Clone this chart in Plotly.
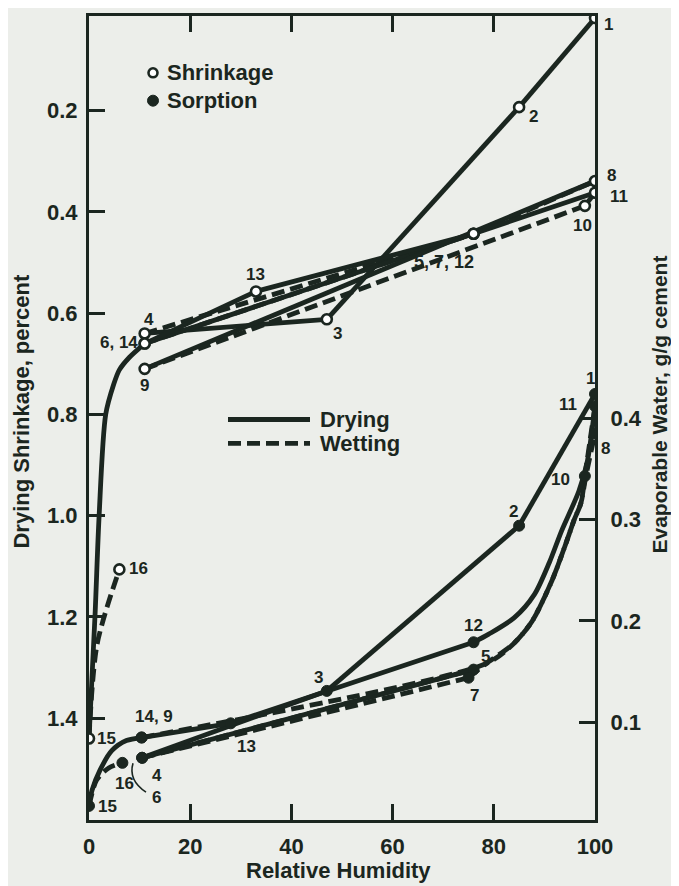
import plotly.graph_objects as go

# ---------------- data ----------------
points = list(range(1, 17))

# Shrinkage (open circles, left axis, percent)
shr_rh  = [100, 85, 47, 11, 76, 11, 76, 100, 11, 98, 100, 76, 33, 11, 0, 6]
shr_val = [0.017, 0.193, 0.612, 0.640, 0.443, 0.660, 0.443, 0.339,
           0.710, 0.388, 0.362, 0.443, 0.557, 0.660, 1.440, 1.106]

# Sorption (filled circles, right axis, g/g cement)
sor_rh  = [100, 85, 47, 10.5, 76, 10.5, 75, 100, 10.4, 98, 100, 76, 28, 10.4, 0, 6.6]
sor_val = [0.424, 0.294, 0.131, 0.065, 0.152, 0.065, 0.144, 0.385,
           0.085, 0.343, 0.412, 0.179, 0.099, 0.085, 0.0175, 0.060]

# read points along curved segments
shr_c14_15_rh  = [8.0, 6.0, 4.9, 3.3, 2.0, 1.2]
shr_c14_15_val = [0.687, 0.712, 0.740, 0.800, 1.000, 1.195]
shr_c15_16_rh  = [1.6]
shr_c15_16_val = [1.254]

sor_c11_12_rh  = [98.5, 96.8, 93.4, 91.0, 88.0, 84.0, 79.0]
sor_c11_12_val = [0.358, 0.328, 0.289, 0.258, 0.226, 0.203, 0.187]
sor_c7_8_rh    = [78.5, 84.0, 87.6, 91.5, 94.0, 95.9, 97.2, 98.2]
sor_c7_8_val   = [0.158, 0.178, 0.200, 0.240, 0.273, 0.300, 0.316, 0.343]
sor_c14_15_rh  = [7.4, 4.5, 2.2, 0.6]
sor_c14_15_val = [0.082, 0.072, 0.053, 0.033]
sor_c15_16_rh  = [1.5, 3.9]
sor_c15_16_val = [0.043, 0.055]

# steps of the test (from point, to point, kind)
steps = [(1, 2, "D"), (2, 3, "D"), (3, 4, "D"), (4, 5, "W"), (5, 6, "D"),
         (6, 7, "W"), (7, 8, "W"), (8, 9, "D"), (9, 10, "W"), (10, 11, "W"),
         (11, 12, "D"), (12, 13, "D"), (13, 14, "D"), (14, 15, "D"), (15, 16, "W")]

x_ticks = [0, 20, 40, 60, 80, 100]
left_ticks = [0.2, 0.4, 0.6, 0.8, 1.0, 1.2, 1.4]
right_ticks = [0.1, 0.2, 0.3, 0.4]

# ---------------- styling ----------------
INK = "#1b2620"
BG = "#eceeea"
FONT = "Liberation Sans"
OFF = 8                       # page body margin
W, H = 679 - OFF, 886 - OFF
ML, MT = 89 - OFF, 13 - OFF
PLOT_R, PLOT_B = 595 - OFF, 820 - OFF
MR, MB = W - PLOT_R, H - PLOT_B
PW, PH = PLOT_R - ML, PLOT_B - MT


def px(x):   # absolute page pixel -> paper
    return (x - OFF - ML) / PW


def py(y):
    return (PLOT_B - (y - OFF)) / PH


fig = go.Figure()

LW = 4.8
DASH = "13px,6px"


def seg(xs, ys, kind, yaxis, spline=False):
    fig.add_trace(go.Scatter(
        x=xs, y=ys, mode="lines", yaxis=yaxis, showlegend=False, hoverinfo="skip",
        line=dict(color=INK, width=LW, dash="solid" if kind == "D" else DASH,
                  shape="spline" if spline else "linear", smoothing=0.8)))


# --- shrinkage segments
shr_curves = {(14, 15): (shr_c14_15_rh, shr_c14_15_val),
              (15, 16): (shr_c15_16_rh, shr_c15_16_val)}
for a, b, k in steps:
    xs = [shr_rh[a - 1]]
    ys = [shr_val[a - 1]]
    sp = False
    if (a, b) in shr_curves:
        cx, cy = shr_curves[(a, b)]
        xs += cx
        ys += cy
        sp = True
    xs.append(shr_rh[b - 1])
    ys.append(shr_val[b - 1])
    seg(xs, ys, k, "y", sp)

# --- sorption segments
sor_curves = {(11, 12): (sor_c11_12_rh, sor_c11_12_val),
              (7, 8): (sor_c7_8_rh, sor_c7_8_val),
              (9, 10): (sor_c7_8_rh[:-1], sor_c7_8_val[:-1]),
              (14, 15): (sor_c14_15_rh, sor_c14_15_val),
              (15, 16): (sor_c15_16_rh, sor_c15_16_val)}
for a, b, k in steps:
    if (a, b) == (8, 9):
        continue  # runs along the 11-12-13-14 path
    xs = [sor_rh[a - 1]]
    ys = [sor_val[a - 1]]
    sp = False
    if (a, b) in sor_curves:
        cx, cy = sor_curves[(a, b)]
        xs += cx
        ys += cy
        sp = True
    xs.append(sor_rh[b - 1])
    ys.append(sor_val[b - 1])
    seg(xs, ys, k, "y2", sp)

# markers
fig.add_trace(go.Scatter(x=shr_rh, y=shr_val, mode="markers", yaxis="y", showlegend=False,
                         marker=dict(symbol="circle", size=10, color="white",
                                     line=dict(color=INK, width=2.6))))
fig.add_trace(go.Scatter(x=sor_rh, y=sor_val, mode="markers", yaxis="y2", showlegend=False,
                         marker=dict(symbol="circle", size=11, color=INK,
                                     line=dict(color=INK, width=1))))

# ---------------- point labels ----------------
ann = []


def lab(text, idx, dx, dy, axis, size=17):
    xs = shr_rh if axis == "y" else sor_rh
    ys = shr_val if axis == "y" else sor_val
    ann.append(dict(x=xs[idx - 1], y=ys[idx - 1], xref="x", yref=axis, text="<b>%s</b>" % text,
                    showarrow=False, xshift=dx, yshift=dy,
                    font=dict(family=FONT, size=size, color=INK)))


# shrinkage labels
lab("1", 1, 13, -6, "y")
lab("2", 2, 14, -9, "y")
lab("8", 8, 16, 6, "y")
lab("11", 11, 24, -4, "y")
lab("10", 10, -2, -20, "y")
lab("5, 7, 12", 5, -30, -28, "y", 18)
lab("13", 13, 0, 17, "y")
lab("3", 3, 11, -14, "y")
lab("4", 4, 4, 14, "y")
lab("6, 14", 6, -26, 1, "y")
lab("9", 9, 0, -17, "y")
lab("16", 16, 19, 1, "y")
lab("15", 15, 17, 0, "y")

# sorption labels
lab("1", 1, -5, 15, "y2")
lab("11", 11, -27, 2, "y2")
lab("8", 8, 10, -15, "y2")
lab("10", 10, -24, -3, "y2")
lab("2", 2, -6, 14, "y2")
lab("12", 12, 0, 17, "y2")
lab("5", 5, 12, 13, "y2")
lab("7", 7, 6, -18, "y2")
lab("3", 3, -8, 13, "y2")
lab("13", 13, 16, -23, "y2")
lab("14, 9", 14, 12, 21, "y2")
lab("4", 4, 15, -18, "y2")
lab("6", 6, 14, -40, "y2")
lab("16", 16, 2, -21, "y2")
lab("15", 15, 18, -1, "y2")

# axis titles
TF = dict(family=FONT, size=22, color=INK)
ann.append(dict(x=px(338), y=py(871), xref="paper", yref="paper", text="<b>Relative Humidity</b>",
                showarrow=False, font=TF, xanchor="center", yanchor="middle"))
ann.append(dict(x=px(22), y=py(410), xref="paper", yref="paper", text="<b>Drying Shrinkage, percent</b>",
                showarrow=False, font=TF, textangle=-90, xanchor="center", yanchor="middle"))
ann.append(dict(x=px(660), y=py(403), xref="paper", yref="paper", text="<b>Evaporable Water, g/g cement</b>",
                showarrow=False, font=dict(family=FONT, size=21, color=INK),
                textangle=-90, xanchor="center", yanchor="middle"))

# legend texts
GF = dict(family=FONT, size=22, color=INK)
for t, yy in [("Shrinkage", 70), ("Sorption", 98)]:
    ann.append(dict(x=px(165), y=py(yy), xref="paper", yref="paper", text="<b>%s</b>" % t,
                    showarrow=False, font=GF, xanchor="left", yanchor="middle"))
for t, yy in [("Drying", 418), ("Wetting", 442)]:
    ann.append(dict(x=px(318), y=py(yy), xref="paper", yref="paper", text="<b>%s</b>" % t,
                    showarrow=False, font=GF, xanchor="left", yanchor="middle"))

shapes = [
    dict(type="circle", xref="paper", yref="paper", xsizemode="pixel", ysizemode="pixel",
         xanchor=px(153), yanchor=py(70), x0=-4.5, x1=4.5, y0=-4.5, y1=4.5,
         line=dict(color=INK, width=2.6), fillcolor="white"),
    dict(type="circle", xref="paper", yref="paper", xsizemode="pixel", ysizemode="pixel",
         xanchor=px(153), yanchor=py(98), x0=-5.5, x1=5.5, y0=-5.5, y1=5.5,
         line=dict(color=INK, width=1), fillcolor=INK),
    dict(type="line", xref="paper", yref="paper", x0=px(228), x1=px(310), y0=py(418), y1=py(418),
         line=dict(color=INK, width=LW)),
    dict(type="line", xref="paper", yref="paper", x0=px(228), x1=px(310), y0=py(442), y1=py(442),
         line=dict(color=INK, width=LW, dash=DASH)),
    dict(type="path", xref="paper", yref="paper",
         path="M %f,%f Q %f,%f %f,%f" % (px(133), py(763), px(128), py(780), px(146), py(792)),
         line=dict(color=INK, width=1.6)),
]

AX = dict(showgrid=False, zeroline=False, showline=True, linecolor=INK, linewidth=3,
          ticks="inside", ticklen=16, tickwidth=3, tickcolor=INK,
          tickfont=dict(family=FONT, size=22, color=INK))

fig.update_layout(
    width=W, height=H, margin=dict(l=ML, r=MR, t=MT, b=MB),
    paper_bgcolor=BG, plot_bgcolor=BG, showlegend=False,
    font=dict(family=FONT, color=INK),
    xaxis=dict(range=[0, 100], tickvals=x_ticks, ticktext=["<b>%d</b>" % v for v in x_ticks],
               mirror="ticks", ticklabelstandoff=5, **AX),
    yaxis=dict(range=[1.601, 0.013], tickvals=left_ticks,
               ticktext=["<b>%.1f</b>" % v for v in left_ticks], ticklabelstandoff=4, **AX),
    yaxis2=dict(range=[0.0036, 0.797], overlaying="y", side="right", anchor="x",
                tickvals=right_ticks, ticktext=["<b>%.1f</b>" % v for v in right_ticks],
                ticklabelstandoff=8, **AX),
    annotations=ann, shapes=shapes,
)

fig.write_html("out.html")
